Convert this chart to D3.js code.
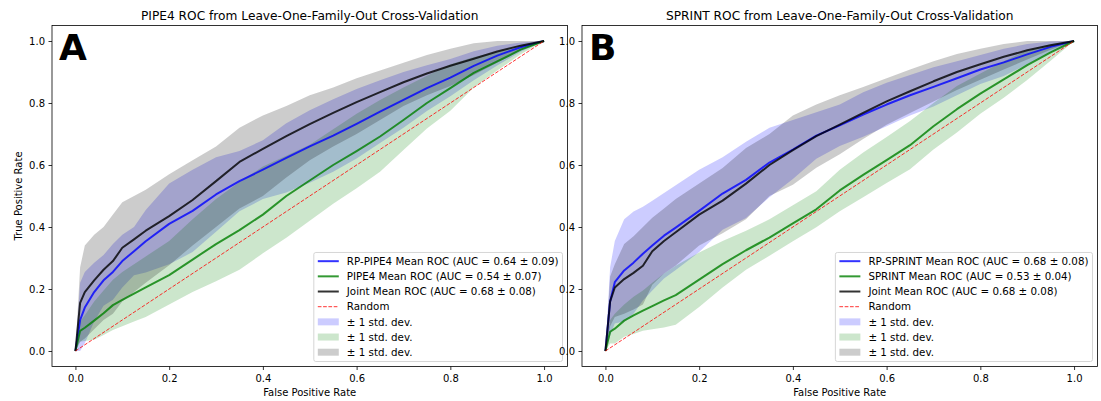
<!DOCTYPE html>
<html>
<head>
<meta charset="utf-8">
<script src="https://cdn.jsdelivr.net/npm/d3@7"></script>
<style>
  html, body { margin: 0; padding: 0; background: #fff; }
  svg { display: block; font-family: "DejaVu Sans", sans-serif; }
</style>
</head>
<body>
<svg id="fig" width="1101" height="401"></svg>
<script>
// Common false-positive-rate grid for every mean ROC curve and its band
const fprGrid = [0, 0.01, 0.02, 0.04, 0.06, 0.08, 0.10, 0.125, 0.15, 0.20, 0.25, 0.30, 0.35,
                 0.40, 0.45, 0.50, 0.55, 0.60, 0.65, 0.70, 0.75, 0.80, 0.85, 0.90, 0.95, 1.00];

// Panel A: PIPE4
const rpPipe4Mean  = [0, .10, .14, .19, .228, .255, .29, .322, .354, .41, .452, .505, .548, .585, .623, .66, .695, .733, .772, .81, .848, .882, .92, .953, .98, 1];
const rpPipe4Upper = [0, .22, .255, .285, .31, .345, .375, .40, .455, .54, .585, .625, .645, .68, .735, .777, .812, .845, .873, .90, .922, .942, .967, .985, .995, 1];
const rpPipe4Lower = [0, 0, .025, .095, .146, .165, .205, .244, .253, .28, .319, .385, .451, .49, .511, .543, .578, .621, .671, .72, .774, .822, .873, .921, .965, 1];

const pipe4Mean  = [0, .065, .075, .098, .122, .148, .165, .185, .205, .245, .295, .345, .39, .44, .50, .55, .60, .645, .692, .745, .80, .848, .897, .934, .972, 1];
const pipe4Upper = [0, .095, .115, .16, .195, .23, .255, .28, .305, .355, .425, .49, .545, .595, .63, .665, .715, .765, .81, .85, .888, .925, .948, .965, .987, 1];
const pipe4Lower = [0, .03, .032, .036, .052, .068, .08, .095, .11, .15, .19, .225, .262, .315, .365, .42, .475, .525, .578, .648, .718, .775, .85, .905, .957, 1];

const jointAMean  = [0, .155, .19, .228, .262, .29, .333, .36, .388, .435, .487, .548, .61, .652, .693, .732, .768, .803, .835, .867, .895, .92, .943, .966, .985, 1];
const jointAUpper = [0, .27, .34, .375, .40, .44, .48, .50, .52, .57, .615, .66, .72, .76, .79, .825, .85, .88, .905, .93, .955, .975, .993, 1, 1, 1];
const jointALower = [0, .03, .04, .07, .10, .12, .16, .19, .22, .277, .34, .40, .46, .50, .56, .615, .66, .70, .745, .79, .825, .855, .89, .93, .97, 1];

// Panel B: SPRINT
const rpSprintMean  = [0, .16, .222, .26, .285, .314, .34, .372, .398, .452, .508, .552, .608, .65, .695, .728, .763, .795, .825, .852, .88, .908, .931, .957, .981, 1];
const rpSprintUpper = [0, .27, .355, .425, .45, .465, .485, .51, .535, .585, .625, .675, .72, .745, .77, .795, .835, .865, .89, .915, .935, .955, .975, .99, .998, 1];
const rpSprintLower = [0, .05, .089, .095, .12, .163, .195, .234, .261, .319, .391, .429, .496, .555, .62, .661, .691, .725, .76, .789, .825, .861, .887, .924, .964, 1];

const sprintMean  = [0, .062, .072, .098, .115, .13, .145, .163, .18, .23, .28, .325, .366, .412, .457, .518, .568, .616, .664, .725, .78, .83, .876, .922, .963, 1];
const sprintUpper = [0, .10, .12, .15, .175, .195, .22, .25, .275, .318, .355, .388, .425, .47, .515, .585, .64, .69, .742, .80, .855, .895, .935, .97, .99, 1];
const sprintLower = [0, .024, .024, .046, .055, .065, .07, .076, .085, .142, .205, .262, .307, .354, .399, .451, .496, .542, .586, .65, .705, .765, .817, .874, .936, 1];

const jointBMean  = [0, .16, .205, .232, .252, .275, .322, .355, .383, .44, .485, .54, .60, .648, .693, .73, .768, .805, .838, .87, .90, .925, .949, .97, .986, 1];
const jointBUpper = [0, .24, .28, .345, .37, .40, .43, .46, .49, .54, .59, .655, .70, .76, .795, .825, .852, .88, .908, .935, .958, .975, .99, 1, 1, 1];
const jointBLower = [0, .08, .11, .12, .134, .15, .214, .25, .276, .34, .38, .425, .50, .536, .591, .635, .684, .73, .768, .805, .842, .875, .908, .94, .972, 1];

// Legend names and AUC summaries (mean, std)
const namesA = ["RP-PIPE4", "PIPE4", "Joint"];
const aucA   = [[0.64, 0.09], [0.54, 0.07], [0.68, 0.08]];
const namesB = ["RP-SPRINT", "SPRINT", "Joint"];
const aucB   = [[0.68, 0.08], [0.53, 0.04], [0.68, 0.08]];

const tickValues = [0, 0.2, 0.4, 0.6, 0.8, 1.0];
const tickLabels = ["0.0", "0.2", "0.4", "0.6", "0.8", "1.0"];

// ---------------------------------------------------------------------------
const svg = d3.select("#fig");
const colors = ["#0000ff", "#008000", "#000000"];
const axTop = 25.5, axBottom = 366.5;

const panels = [
  { letter: "A", title: "PIPE4 ROC from Leave-One-Family-Out Cross-Validation",
    left: 52, right: 567.5, names: namesA, auc: aucA, ylabel: true,
    series: [
      { mean: rpPipe4Mean, upper: rpPipe4Upper, lower: rpPipe4Lower },
      { mean: pipe4Mean,   upper: pipe4Upper,   lower: pipe4Lower },
      { mean: jointAMean,  upper: jointAUpper,  lower: jointALower } ] },
  { letter: "B", title: "SPRINT ROC from Leave-One-Family-Out Cross-Validation",
    left: 582, right: 1097.5, names: namesB, auc: aucB, ylabel: false,
    series: [
      { mean: rpSprintMean, upper: rpSprintUpper, lower: rpSprintLower },
      { mean: sprintMean,   upper: sprintUpper,   lower: sprintLower },
      { mean: jointBMean,   upper: jointBUpper,   lower: jointBLower } ] }
];

const fmt = d3.format(".2f");

panels.forEach((p, pi) => {
  const x = d3.scaleLinear().domain([-0.05, 1.05]).range([p.left, p.right]);
  const y = d3.scaleLinear().domain([-0.05, 1.05]).range([axBottom, axTop]);
  const g = svg.append("g");

  const clipId = "clip" + pi;
  g.append("clipPath").attr("id", clipId).append("rect")
    .attr("x", p.left).attr("y", axTop)
    .attr("width", p.right - p.left).attr("height", axBottom - axTop);
  const plot = g.append("g").attr("clip-path", `url(#${clipId})`);

  // ±1 std bands
  p.series.forEach((s, si) => {
    const area = d3.area()
      .x((d, i) => x(fprGrid[i]))
      .y0((d, i) => y(s.lower[i]))
      .y1((d, i) => y(s.upper[i]));
    plot.append("path").datum(s.mean).attr("d", area)
      .attr("fill", colors[si]).attr("fill-opacity", 0.2).attr("stroke", "none");
  });

  // Mean ROC curves
  p.series.forEach((s, si) => {
    const line = d3.line().x((d, i) => x(fprGrid[i])).y(d => y(d));
    plot.append("path").datum(s.mean).attr("d", line)
      .attr("fill", "none").attr("stroke", colors[si]).attr("stroke-opacity", 0.8)
      .attr("stroke-width", 2).attr("stroke-linejoin", "round").attr("stroke-linecap", "butt");
  });

  // Chance diagonal
  plot.append("line")
    .attr("x1", x(0)).attr("y1", y(0)).attr("x2", x(1)).attr("y2", y(1))
    .attr("stroke", "#ff0000").attr("stroke-opacity", 0.8).attr("stroke-width", 1)
    .attr("stroke-dasharray", "3.7,1.6");

  // Axes frame
  g.append("rect").attr("x", p.left).attr("y", axTop)
    .attr("width", p.right - p.left).attr("height", axBottom - axTop)
    .attr("fill", "none").attr("stroke", "#000").attr("stroke-width", 0.8);

  // X axis
  const xAxis = d3.axisBottom(x).tickValues(tickValues)
    .tickFormat((d, i) => tickLabels[i]).tickSize(3.5).tickPadding(3.5);
  const xg = g.append("g").attr("transform", `translate(0,${axBottom})`).call(xAxis);
  xg.select(".domain").remove();
  xg.selectAll(".tick line").attr("stroke", "#000").attr("stroke-width", 0.8);
  xg.selectAll(".tick text").attr("font-size", 10).attr("font-family", "DejaVu Sans")
    .attr("fill", "#000").attr("dy", null).attr("y", 15.5);

  // Y axis
  const yAxis = d3.axisLeft(y).tickValues(tickValues)
    .tickFormat((d, i) => tickLabels[i]).tickSize(3.5).tickPadding(3.5);
  const yg = g.append("g").attr("transform", `translate(${p.left},0)`).call(yAxis);
  yg.select(".domain").remove();
  yg.selectAll(".tick line").attr("stroke", "#000").attr("stroke-width", 0.8);
  yg.selectAll(".tick text").attr("font-size", 10).attr("font-family", "DejaVu Sans")
    .attr("fill", "#000").attr("dy", null).attr("y", 3.6);

  // Labels and title
  const cx = (p.left + p.right) / 2;
  g.append("text").attr("x", cx).attr("y", 395.5).attr("text-anchor", "middle")
    .attr("font-size", 10).attr("fill", "#000").text("False Positive Rate");
  if (p.ylabel) {
    g.append("text").attr("transform", `translate(22,${(axTop + axBottom) / 2}) rotate(-90)`)
      .attr("text-anchor", "middle").attr("font-size", 10).attr("fill", "#000")
      .text("True Positive Rate");
  }
  g.append("text").attr("x", cx).attr("y", 19.5).attr("text-anchor", "middle")
    .attr("font-size", 12.2).attr("fill", "#000").text(p.title);

  // Panel letter
  g.append("text").attr("x", p.left + 7).attr("y", 59.5)
    .attr("font-size", 36).attr("font-weight", "bold").attr("fill", "#000").text(p.letter);

  // Legend
  const items = [];
  p.series.forEach((s, si) => items.push({ type: "line", color: colors[si],
    label: `${p.names[si]} Mean ROC (AUC = ${fmt(p.auc[si][0])} \u00b1 ${fmt(p.auc[si][1])})` }));
  items.push({ type: "dash", color: "#ff0000", label: "Random" });
  p.series.forEach((s, si) => items.push({ type: "patch", color: colors[si], label: "\u00b1 1 std. dev." }));

  const lg = g.append("g");
  const box = lg.append("rect");
  const rowPitch = 15.17, firstRow = 8.7;
  const texts = [];
  items.forEach((it, k) => {
    const t = lg.append("text").attr("font-size", 10.3).attr("fill", "#000").text(it.label);
    texts.push(t);
  });
  const maxW = d3.max(texts, t => t.node().getComputedTextLength());
  const boxW = 33 + maxW + 4;
  const boxH = firstRow * 2 + rowPitch * (items.length - 1) + 0.6;
  const bx = p.right - 5 - boxW, by = axBottom - 5 - boxH;
  box.attr("x", bx).attr("y", by).attr("width", boxW).attr("height", boxH)
    .attr("rx", 2).attr("fill", "#fff").attr("fill-opacity", 0.8)
    .attr("stroke", "#cccccc").attr("stroke-width", 0.8);
  items.forEach((it, k) => {
    const cy = by + firstRow + k * rowPitch;
    texts[k].attr("x", bx + 33).attr("y", cy + 3.7);
    if (it.type === "line") {
      lg.append("line").attr("x1", bx + 4).attr("x2", bx + 25).attr("y1", cy).attr("y2", cy)
        .attr("stroke", it.color).attr("stroke-opacity", 0.8).attr("stroke-width", 2);
    } else if (it.type === "dash") {
      lg.append("line").attr("x1", bx + 4).attr("x2", bx + 25).attr("y1", cy).attr("y2", cy)
        .attr("stroke", it.color).attr("stroke-opacity", 0.8).attr("stroke-width", 1)
        .attr("stroke-dasharray", "3.7,1.6");
    } else {
      lg.append("rect").attr("x", bx + 4).attr("y", cy - 3.5).attr("width", 21).attr("height", 7)
        .attr("fill", it.color).attr("fill-opacity", 0.2);
    }
  });
});
</script>
</body>
</html>
